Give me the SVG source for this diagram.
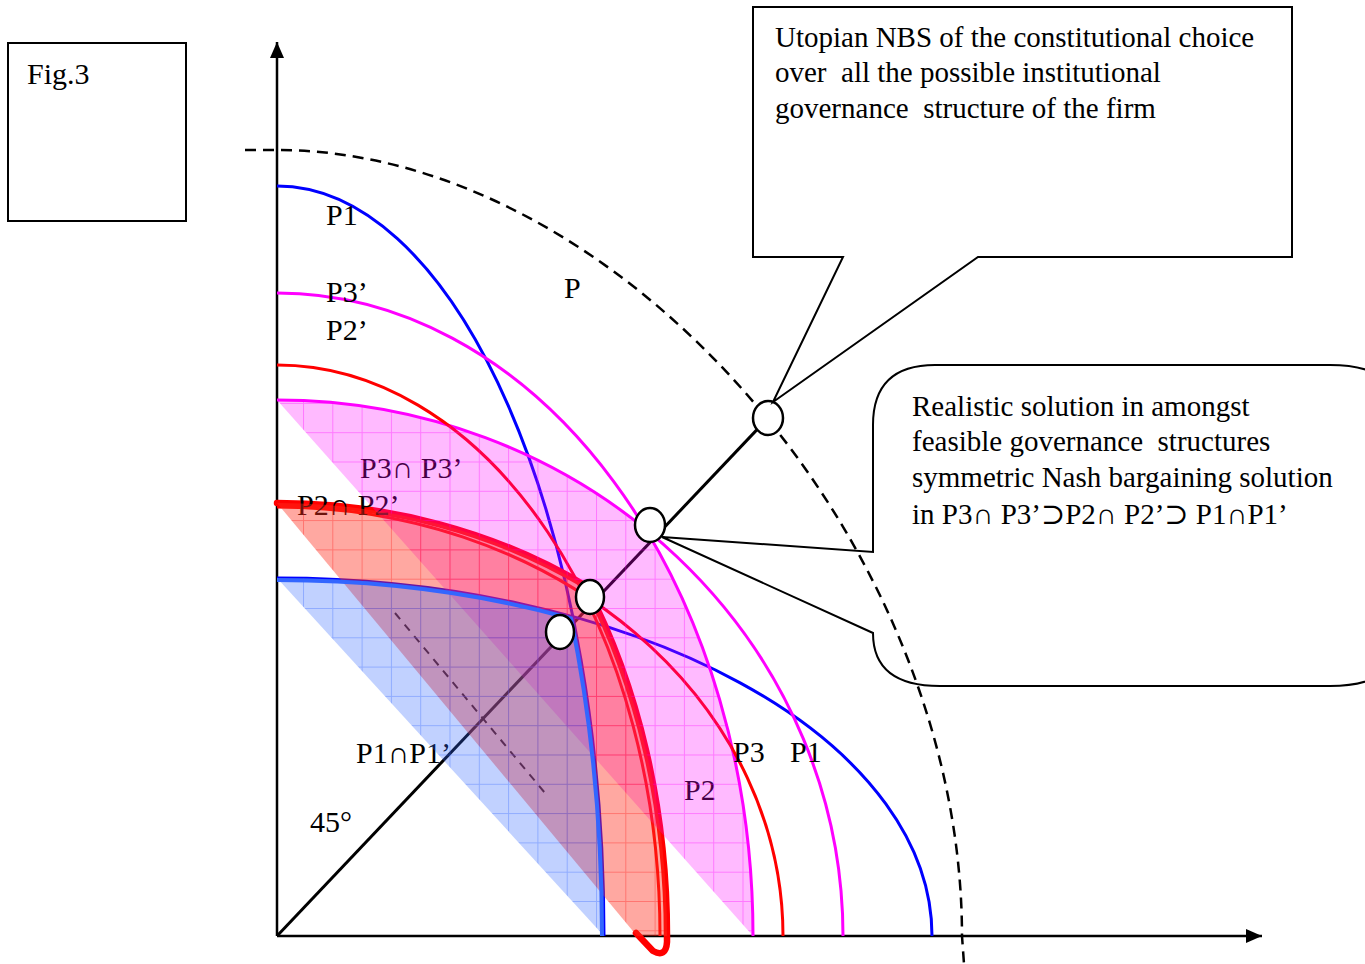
<svg xmlns="http://www.w3.org/2000/svg" width="1365" height="964" viewBox="0 0 1365 964">
<style>
.t{font-family:"Liberation Serif","DejaVu Serif",serif;fill:#000;}
.lbl{font-size:30px;}
.cl{font-size:29px;white-space:pre;}
.ax{stroke:#000;stroke-width:2.5;fill:none;}
.crv{fill:none;stroke-width:3;}
.node{fill:#fff;stroke:#000;stroke-width:2.5;}
.callout{fill:none;stroke:#000;stroke-width:2;stroke-linejoin:miter;}
</style>
<defs>
<marker id="arr" viewBox="0 0 16 14" refX="16" refY="7" markerWidth="16" markerHeight="14" orient="auto" markerUnits="userSpaceOnUse"><path d="M0,0 L16,7 L0,14 Z" fill="#000"/></marker>
<pattern id="gPink" patternUnits="userSpaceOnUse" x="303" y="608" width="29.3" height="29.3"><rect width="29.3" height="29.3" fill="#ff00ff" fill-opacity="0.27"/><path d="M0,0.5 H29.3 M0.5,0 V29.3" stroke="#ff00ff" stroke-opacity="0.35" stroke-width="1"/></pattern>
<pattern id="gRed" patternUnits="userSpaceOnUse" x="303" y="608" width="29.3" height="29.3"><rect width="29.3" height="29.3" fill="#ff3020" fill-opacity="0.42"/><path d="M0,0.5 H29.3 M0.5,0 V29.3" stroke="#ff0000" stroke-opacity="0.3" stroke-width="1"/></pattern>
<pattern id="gBlue" patternUnits="userSpaceOnUse" x="303" y="608" width="29.3" height="29.3"><rect width="29.3" height="29.3" fill="#3366ff" fill-opacity="0.3"/><path d="M0,0.5 H29.3 M0.5,0 V29.3" stroke="#3366ff" stroke-opacity="0.35" stroke-width="1"/></pattern>
</defs>
<rect width="1365" height="964" fill="#fff"/>

<g id="axes">
<path class="ax" d="M277,936 V42" marker-end="url(#arr)"/>
<path class="ax" d="M277,936 H1262" marker-end="url(#arr)"/>
</g>

<g id="connectors">
<path d="M277,936 L768,418" stroke="#000" stroke-width="3" fill="none"/>
<path d="M395,613 L545,793" stroke="#000" stroke-width="2" stroke-dasharray="8 7" fill="none"/>
</g>

<g id="frontier-P">
<path d="M245,150 L277,150 C619.5,150 962,543 962,936 L964,964" fill="none" stroke="#000" stroke-width="2.5" stroke-dasharray="11 7"/>
</g>

<g id="curves">
<path id="P1" class="crv" stroke="#0000ff" d="M277,186 A327 750 0 0 1 604,936"/>
<path id="P1p" class="crv" stroke="#0000ff" stroke-width="3.5" d="M277,578 A655 358 0 0 1 932,936"/>
<path id="P3p" class="crv" stroke="#ff00ff" d="M277,293 A476 643 0 0 1 753,936"/>
<path id="P3" class="crv" stroke="#ff00ff" d="M277,400 A566 536 0 0 1 843,936"/>
<path id="P2" class="crv" stroke="#ff0000" d="M277,365 A383 571 0 0 1 660,936"/>
<path id="P2p" class="crv" stroke="#ff0000" d="M277,507 A506 429 0 0 1 783,936"/>
<path id="P2P2p-outline" fill="none" stroke="#ff0000" stroke-width="6.5" stroke-linejoin="round" stroke-linecap="round" d="M277,503 A525 433 0 0 1 586.1,586 A390 574 0 0 1 667,936 L667,942 Q666,958 653,951 L636,933"/>
</g>

<g id="labels" class="t lbl">
<text x="326" y="225">P1</text>
<text x="326" y="302">P3’</text>
<text x="326" y="340">P2’</text>
<text x="564" y="298">P</text>
<text x="360" y="478">P3∩ P3’</text>
<text x="297" y="515">P2∩ P2’</text>
<text x="356" y="763">P1∩P1’</text>
<text x="310" y="832">45°</text>
<text x="733" y="762">P3</text>
<text x="790" y="762">P1</text>
<text x="684" y="800">P2</text>
</g>

<g id="regions">
<path id="P3P3p" fill="url(#gPink)" d="M277,400 A566 536 0 0 1 646,529.3 A476 643 0 0 1 753,936 Z"/>
<path id="P2P2p" fill="url(#gRed)" d="M277,503 A525 433 0 0 1 586.1,586 A390 574 0 0 1 667,936 L637,936 Z"/>
<path id="P1P1p" fill="url(#gBlue)" d="M277,578 A655 358 0 0 1 573,616.6 A327 750 0 0 1 604,936 Z"/>
<path id="P1P1p-outline" fill="none" stroke="#3366ff" stroke-width="4" stroke-linejoin="round" d="M277,580 A652 356 0 0 1 571,618.5 A325 748 0 0 1 602,936"/>
</g>

<g id="node-utopian"><ellipse class="node" cx="768" cy="418" rx="15" ry="17"/></g>
<g id="node-P3"><ellipse class="node" cx="650" cy="525" rx="15" ry="17"/></g>
<g id="node-P2"><ellipse class="node" cx="590" cy="597" rx="14" ry="17"/></g>
<g id="node-P1"><ellipse class="node" cx="560" cy="632" rx="14" ry="17"/></g>

<g id="callout-utopian">
<path class="callout" d="M753,7 L1292,7 L1292,257 L978,257 L773,402 L843,257 L753,257 Z"/>
<text class="t cl" x="775" y="47">Utopian NBS of the constitutional choice</text>
<text class="t cl" x="775" y="82">over  all the possible institutional</text>
<text class="t cl" x="775" y="118">governance  structure of the firm</text>
</g>

<g id="callout-realistic">
<path class="callout" d="M662,537 L873,552 L873,425 Q873,365 935,365 L1330,365 Q1405,365 1405,425 L1405,626 Q1405,686 1330,686 L940,686 Q873,686 873,633 Z"/>
<text class="t cl" x="912" y="416">Realistic solution in amongst</text>
<text class="t cl" x="912" y="451">feasible governance  structures</text>
<text class="t cl" x="912" y="487">symmetric Nash bargaining solution</text>
<text class="t cl" x="912" y="524">in P3∩ P3’⊃P2∩ P2’⊃ P1∩P1’</text>
</g>

<g id="fig-label">
<rect x="8" y="43" width="178" height="178" fill="none" stroke="#000" stroke-width="2"/>
<text class="t lbl" x="27" y="84">Fig.3</text>
</g>
</svg>
